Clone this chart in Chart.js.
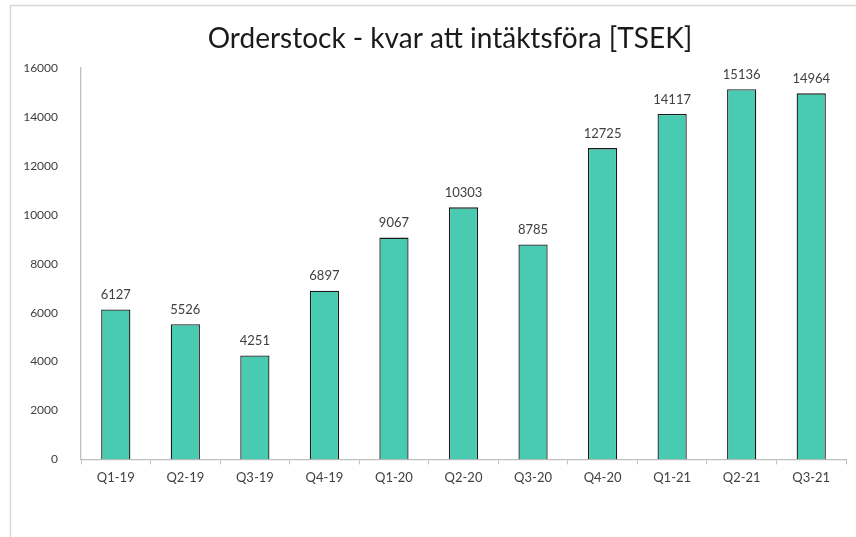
<!DOCTYPE html>
<html>
<head>
<meta charset="utf-8">
<script src="https://cdn.jsdelivr.net/npm/chart.js@4/dist/chart.umd.min.js"></script>
<style>
html,body{margin:0;padding:0;background:#fff;}
#wrap{width:856px;height:537px;position:relative;}
</style>
</head>
<body>
<div id="wrap"><canvas id="c" width="856" height="537"></canvas></div>
<script>
const categories = ["Q1-19","Q2-19","Q3-19","Q4-19","Q1-20","Q2-20","Q3-20","Q4-20","Q1-21","Q2-21","Q3-21"];
const orderstock = [6127,5526,4251,6897,9067,10303,8785,12725,14117,15136,14964];
const yTicks = [0,2000,4000,6000,8000,10000,12000,14000,16000];
const titleText = "Orderstock - kvar att intäktsföra [TSEK]";

const FONT = "Lato, 'Open Sans', sans-serif";

const framePlugin = {
  id: 'frame',
  beforeDraw(chart){
    const ctx = chart.ctx;
    ctx.save();
    ctx.fillStyle = '#fff';
    ctx.fillRect(0,0,chart.width,chart.height);
    ctx.strokeStyle = '#d9d9d9';
    ctx.lineWidth = 1.5;
    ctx.strokeRect(10.5, 5.5, 900, 700);
    ctx.restore();
  },
  afterDraw(chart){
    const ctx = chart.ctx;
    ctx.save();
    ctx.font = "28px " + FONT;
    ctx.fillStyle = '#1a1a1a';
    ctx.textAlign = 'center';
    ctx.textBaseline = 'middle';
    ctx.fillText(titleText, 450, 39);
    ctx.restore();
  }
};

const labelPlugin = {
  id: 'valueLabels',
  afterDatasetsDraw(chart){
    const ctx = chart.ctx;
    const meta = chart.getDatasetMeta(0);
    ctx.save();
    ctx.font = "13px " + FONT;
    ctx.fillStyle = '#404040';
    ctx.textAlign = 'center';
    ctx.textBaseline = 'bottom';
    meta.data.forEach((bar, i) => {
      ctx.fillText(String(chart.data.datasets[0].data[i]), bar.x, bar.y - 8);
    });
    ctx.restore();
  }
};

new Chart(document.getElementById('c'), {
  type: 'bar',
  data: {
    labels: categories,
    datasets: [{
      data: orderstock,
      backgroundColor: '#48CBB0',
      borderColor: '#1a1a1a',
      borderWidth: 1.3,
      barPercentage: 0.42,
      categoryPercentage: 1.0
    }]
  },
  options: {
    responsive: false,
    animation: false,
    devicePixelRatio: 1,
    layout: { padding: { left: 0, right: 10, top: 68, bottom: 45 } },
    plugins: {
      legend: { display: false },
      tooltip: { enabled: false },
      title: { display: false }
    },
    scales: {
      x: {
        offset: true,
        grid: { display: true, drawOnChartArea: false, drawTicks: true, tickLength: 5, color: '#bfbfbf', offset: true },
        border: { display: true, color: '#bfbfbf', width: 1.3 },
        ticks: { color: '#404040', font: { family: FONT, size: 13 }, padding: 6, maxRotation: 0 }
      },
      y: {
        min: 0, max: 16000,
        afterBuildTicks(scale){ scale.ticks = yTicks.map(v => ({value: v})); },
        afterFit(scale){ scale.width = 81; },
        grid: { display: false },
        border: { display: true, color: '#bfbfbf', width: 1.3 },
        ticks: { color: '#404040', font: { family: FONT, size: 12 }, padding: 15, callback: v => String(v) }
      }
    }
  },
  plugins: [framePlugin, labelPlugin]
});
</script>
</body>
</html>
